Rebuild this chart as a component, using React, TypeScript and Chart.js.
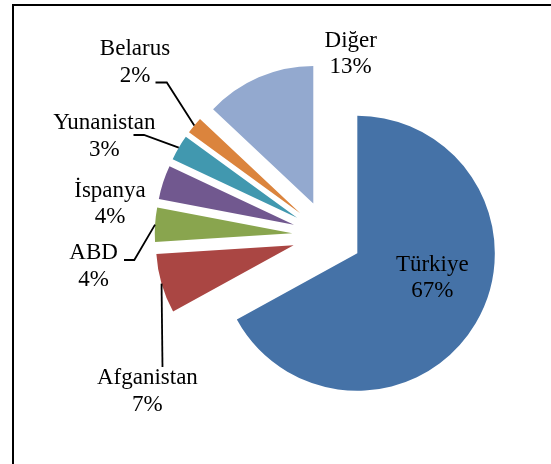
import React, { useEffect, useRef } from "react";
import { Chart, registerables } from "chart.js";

Chart.register(...registerables);

// ---- data ----
const categories = ["Türkiye", "Afganistan", "ABD", "İspanya", "Yunanistan", "Belarus", "Diğer"];
const shares = [67, 7, 4, 4, 3, 2, 13];
const percentLabels = ["67%", "7%", "4%", "4%", "3%", "2%", "13%"];
const colors = ["#4572A7", "#AA4643", "#89A54E", "#71588F", "#4198AF", "#DB843D", "#93A9CF"];

// ---- layout (positions of text labels relative to the pie centre) ----
type LabelPos = { dx: number; dy: number; leader: number[][] | null };
const labelLayout: LabelPos[] = [
  { dx: 105.1, dy: 35.2, leader: null },
  { dx: -179.8, dy: 148.5, leader: [[-164.7, 131.5]] },
  { dx: -233.6, dy: 23.8, leader: [[-203.2, 24.5], [-192.9, 24.5]] },
  { dx: -217.2, dy: -38.8, leader: null },
  { dx: -222.9, dy: -106.2, leader: [[-193.7, -100.5], [-183.2, -100.5]] },
  { dx: -192.2, dy: -180.5, leader: [[-171.7, -153], [-160.4, -153]] },
  { dx: 23.5, dy: -188.8, leader: null },
];

const RADIUS = 137.5;
const EXPLODE_PX = 35; // every slice pulled out from the centre by this distance
const FONT = '23px "Liberation Serif", "Times New Roman", serif';
const LINE_H = 26.5;

// Explode all slices by moving each arc element's own centre along its bisector
// (avoids Chart.js's offset narrowing of small arcs).
const explodePlugin = {
  id: "explodeSlices",
  afterDatasetsUpdate(chart: any) {
    const meta = chart.getDatasetMeta(0);
    meta.data.forEach((el: any) => {
      const mid = (el.startAngle + el.endAngle) / 2;
      el.x = el.x + Math.cos(mid) * EXPLODE_PX;
      el.y = el.y + Math.sin(mid) * EXPLODE_PX;
    });
  },
};

const labelPlugin = {
  id: "pieLabels",
  afterDraw(chart: any) {
    const ctx = chart.ctx;
    const meta = chart.getDatasetMeta(0);
    const area = chart.chartArea;
    const cx = (area.left + area.right) / 2;
    const cy = (area.top + area.bottom) / 2;
    ctx.save();
    ctx.font = FONT;
    ctx.fillStyle = "#000";
    ctx.textAlign = "center";
    ctx.textBaseline = "alphabetic";
    ctx.strokeStyle = "#000";
    ctx.lineWidth = 1.8;
    meta.data.forEach((el: any, i: number) => {
      const lay = labelLayout[i];
      ctx.fillText(categories[i], cx + lay.dx, cy + lay.dy);
      ctx.fillText(percentLabels[i], cx + lay.dx, cy + lay.dy + LINE_H);
      if (lay.leader) {
        const mid = (el.startAngle + el.endAngle) / 2;
        const ex = el.x + Math.cos(mid) * el.outerRadius;
        const ey = el.y + Math.sin(mid) * el.outerRadius;
        ctx.beginPath();
        lay.leader.forEach((p, k) => {
          if (k === 0) ctx.moveTo(cx + p[0], cy + p[1]);
          else ctx.lineTo(cx + p[0], cy + p[1]);
        });
        ctx.lineTo(ex, ey);
        ctx.stroke();
      }
    });
    ctx.restore();
  },
};

export default function App() {
  const ref = useRef<HTMLCanvasElement | null>(null);
  useEffect(() => {
    if (!ref.current) return;
    const chart = new Chart(ref.current, {
      type: "pie",
      data: {
        labels: categories,
        datasets: [
          {
            data: shares,
            backgroundColor: colors,
            borderWidth: 0,
            offset: 0,
            hoverOffset: 0,
          },
        ],
      },
      options: {
        responsive: false,
        maintainAspectRatio: false,
        animation: false,
        radius: RADIUS,
        layout: { padding: { left: 103.4, right: 0, top: 7, bottom: 0 } },
        plugins: {
          legend: { display: false },
          tooltip: { enabled: false },
        },
        events: [],
      } as any,
      plugins: [explodePlugin, labelPlugin],
    });
    return () => chart.destroy();
  }, []);
  return (
    <div style={{ position: "fixed", left: 0, top: 0, width: 551, height: 464, background: "#fff", overflow: "hidden" }}>
      <div
        style={{
          position: "absolute",
          left: 12,
          top: 4,
          width: 700,
          height: 700,
          borderLeft: "2px solid #000",
          borderTop: "2px solid #000",
          boxSizing: "border-box",
        }}
      />
      <canvas ref={ref} width={551} height={464} style={{ position: "absolute", left: 0, top: 0, display: "block" }} />
    </div>
  );
}
